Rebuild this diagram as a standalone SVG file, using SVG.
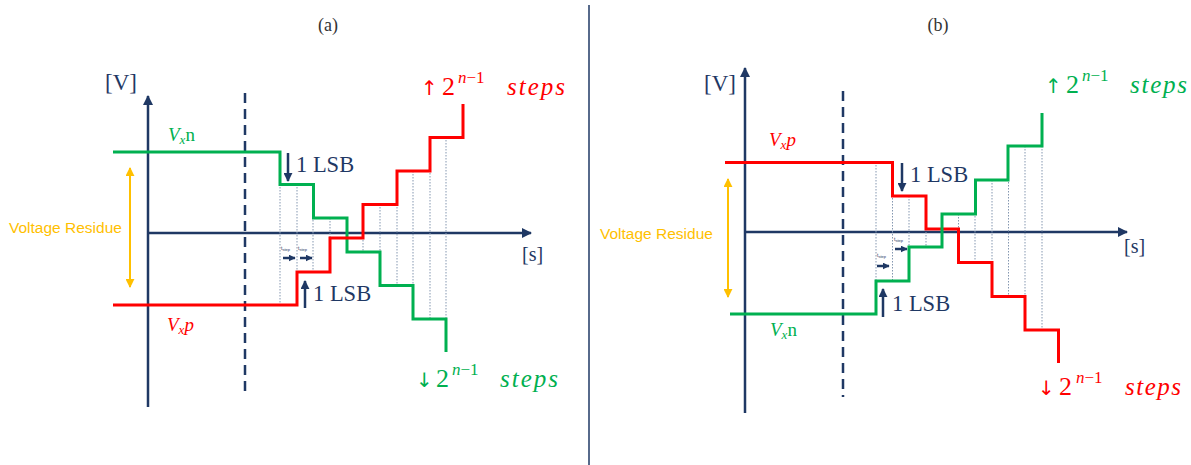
<svg xmlns="http://www.w3.org/2000/svg" width="1191" height="465" viewBox="0 0 1191 465">
<defs>
<marker id="axArrow" viewBox="0 0 10 10" refX="9" refY="5" markerWidth="10" markerHeight="10" markerUnits="userSpaceOnUse" orient="auto"><path d="M0,0 L10,5 L0,10 z" fill="#1F3864"/></marker>
<marker id="lsbArrow" viewBox="0 0 10 10" refX="9" refY="5" markerWidth="9" markerHeight="9" markerUnits="userSpaceOnUse" orient="auto"><path d="M0,0 L10,5 L0,10 z" fill="#1F3864"/></marker>
<marker id="tArrow" viewBox="0 0 10 10" refX="9" refY="5" markerWidth="7" markerHeight="7" markerUnits="userSpaceOnUse" orient="auto"><path d="M0,0 L10,5 L0,10 z" fill="#1F3864"/></marker>
<marker id="amberArrow" viewBox="0 0 10 10" refX="9" refY="5" markerWidth="9" markerHeight="9" markerUnits="userSpaceOnUse" orient="auto-start-reverse"><path d="M0,0 L10,5 L0,10 z" fill="#FFC000"/></marker>
</defs>
<style>
.axis{stroke:#1F3864;stroke-width:2.5;fill:none}
.dash{stroke:#1F3864;stroke-width:2.5;stroke-dasharray:10 6;fill:none}
.green{stroke:#00B050;stroke-width:3;fill:none}
.red{stroke:#FF0000;stroke-width:3;fill:none}
.dot{stroke:#8497B0;stroke-width:1;stroke-dasharray:1.5 1.5;fill:none}
.lsb{stroke:#1F3864;stroke-width:2.5;fill:none}
.tarr{stroke:#1F3864;stroke-width:2.5;fill:none}
.amb{stroke:#FFC000;stroke-width:2;fill:none}
.lbl{font-family:"Liberation Serif","DejaVu Serif",serif;fill:#1F3864}
.title{font-family:"Liberation Serif","DejaVu Serif",serif;font-size:18px;fill:#333333}
.res{font-family:"Liberation Sans",Arial,sans-serif;font-size:15.5px;fill:#FFC000}
.vx{font-family:"Liberation Serif","DejaVu Serif",serif;font-size:19px}
.arr{font-family:"DejaVu Sans",sans-serif;font-size:20px}
.two{font-family:"Liberation Serif",serif;font-size:26px}
.sup{font-family:"Liberation Serif",serif;font-size:17px}
.steps{font-family:"Liberation Serif",serif;font-size:25px;font-style:italic}
.tstep{font-family:"Liberation Sans",Arial,sans-serif;font-size:5px;fill:#1F3864}
</style>
<g id="divider"><line x1="589" y1="5" x2="589" y2="465" stroke="#1F3864" stroke-width="1.5"/></g>

<!-- Panel (a) -->
<g id="panel-a">
<text id="title-a" class="title" x="328" y="31" text-anchor="middle">(a)</text>
<g id="axes-a">
<line class="axis" x1="148" y1="407" x2="148" y2="96" marker-end="url(#axArrow)"/>
<line class="axis" x1="148" y1="233" x2="531" y2="233" marker-end="url(#axArrow)"/>
<text class="lbl" x="105" y="90" font-size="23">[V]</text>
<text class="lbl" x="522" y="261" font-size="20">[s]</text>
</g>
<g id="dashed-a"><line class="dash" x1="245" y1="93" x2="245" y2="397"/></g>
<g id="grid-a">
<line class="dot" x1="280" y1="184" x2="280" y2="305"/>
<line class="dot" x1="297" y1="184" x2="297" y2="305"/>
<line class="dot" x1="313" y1="184" x2="313" y2="272"/>
<line class="dot" x1="330" y1="218" x2="330" y2="272"/>
<line class="dot" x1="347" y1="218" x2="347" y2="252"/>
<line class="dot" x1="363" y1="204" x2="363" y2="252"/>
<line class="dot" x1="380" y1="204" x2="380" y2="285"/>
<line class="dot" x1="397" y1="171" x2="397" y2="285"/>
<line class="dot" x1="413" y1="171" x2="413" y2="319"/>
<line class="dot" x1="430" y1="137" x2="430" y2="319"/>
<line class="dot" x1="446" y1="137" x2="446" y2="319"/>
</g>
<g id="vxn-a">
<path class="green" d="M113,152 H280 V184.5 H313.5 V218 H347 V252 H380 V285.5 H413 V319 H446 V352"/>
<text class="vx" x="168" y="141" fill="#00B050"><tspan font-style="italic">V</tspan><tspan font-style="italic" font-size="13" dy="3">x</tspan><tspan dy="-3">n</tspan></text>
</g>
<g id="vxp-a">
<path class="red" d="M113,305 H297 V272 H330 V238 H363 V204.5 H397 V171 H430 V137.5 H463 V104"/>
<text class="vx" x="167" y="331" fill="#FF0000"><tspan font-style="italic">V</tspan><tspan font-style="italic" font-size="13" dy="3">x</tspan><tspan font-style="italic" dy="-3">p</tspan></text>
</g>
<g id="residue-a">
<line class="amb" x1="130" y1="168" x2="130" y2="287" marker-start="url(#amberArrow)" marker-end="url(#amberArrow)"/>
<text class="res" x="9" y="233">Voltage Residue</text>
</g>
<g id="lsb-top-a">
<line class="lsb" x1="288" y1="153" x2="288" y2="181" marker-end="url(#lsbArrow)"/>
<text class="lbl" x="296" y="172" font-size="22.5">1 LSB</text>
</g>
<g id="lsb-bot-a">
<line class="lsb" x1="305" y1="308" x2="305" y2="281" marker-end="url(#lsbArrow)"/>
<text class="lbl" x="313" y="301" font-size="22.5">1 LSB</text>
</g>
<g id="tstep-a">
<text class="tstep" x="281" y="250">t<tspan font-size="4" dy="1">step</tspan></text>
<text class="tstep" x="298" y="250">t<tspan font-size="4" dy="1">step</tspan></text>
<line class="tarr" x1="283" y1="258" x2="295" y2="258" marker-end="url(#tArrow)"/>
<line class="tarr" x1="300" y1="258" x2="312" y2="258" marker-end="url(#tArrow)"/>
</g>
<g id="steps-up-a" fill="#FF0000">
<text class="arr" x="421" y="95">↑</text>
<text class="two" x="442" y="95">2</text>
<text class="sup" x="458" y="83"><tspan font-style="italic">n</tspan>−1</text>
<text class="steps" x="507" y="95" textLength="58" lengthAdjust="spacing">steps</text>
</g>
<g id="steps-down-a" fill="#00B050">
<text class="arr" x="416" y="387">↓</text>
<text class="two" x="436" y="387">2</text>
<text class="sup" x="452" y="375"><tspan font-style="italic">n</tspan>−1</text>
<text class="steps" x="500" y="387" textLength="58" lengthAdjust="spacing">steps</text>
</g>
</g>

<!-- Panel (b) -->
<g id="panel-b">
<text id="title-b" class="title" x="938" y="31" text-anchor="middle">(b)</text>
<g id="axes-b">
<line class="axis" x1="745" y1="413" x2="745" y2="68" marker-end="url(#axArrow)"/>
<line class="axis" x1="745" y1="232" x2="1127" y2="232" marker-end="url(#axArrow)"/>
<text class="lbl" x="704" y="91" font-size="23">[V]</text>
<text class="lbl" x="1124" y="253" font-size="20">[s]</text>
</g>
<g id="dashed-b"><line class="dash" x1="843" y1="91" x2="843" y2="397"/></g>
<g id="grid-b">
<line class="dot" x1="876" y1="162" x2="876" y2="314"/>
<line class="dot" x1="892.5" y1="162" x2="892.5" y2="281"/>
<line class="dot" x1="909" y1="196" x2="909" y2="281"/>
<line class="dot" x1="926" y1="196" x2="926" y2="247"/>
<line class="dot" x1="942" y1="214" x2="942" y2="247"/>
<line class="dot" x1="958.5" y1="214" x2="958.5" y2="262"/>
<line class="dot" x1="975" y1="180" x2="975" y2="262"/>
<line class="dot" x1="992" y1="180" x2="992" y2="296"/>
<line class="dot" x1="1008.5" y1="146" x2="1008.5" y2="296"/>
<line class="dot" x1="1025" y1="146" x2="1025" y2="330"/>
<line class="dot" x1="1042" y1="146" x2="1042" y2="330"/>
</g>
<g id="vxp-b">
<path class="red" d="M725,162.5 H892.5 V196 H926 V229 H958.5 V262.5 H992 V296.5 H1025 V330 H1058.5 V363"/>
<text class="vx" x="769" y="146" fill="#FF0000"><tspan font-style="italic">V</tspan><tspan font-style="italic" font-size="13" dy="3">x</tspan><tspan font-style="italic" dy="-3">p</tspan></text>
</g>
<g id="vxn-b">
<path class="green" d="M730,314 H876 V281 H909 V247 H942 V214 H975.5 V180 H1008 V146 H1042 V113"/>
<text class="vx" x="770" y="336" fill="#00B050"><tspan font-style="italic">V</tspan><tspan font-style="italic" font-size="13" dy="3">x</tspan><tspan dy="-3">n</tspan></text>
</g>
<g id="residue-b">
<line class="amb" x1="728" y1="179" x2="728" y2="297" marker-start="url(#amberArrow)" marker-end="url(#amberArrow)"/>
<text class="res" x="600" y="239">Voltage Residue</text>
</g>
<g id="lsb-top-b">
<line class="lsb" x1="902" y1="163" x2="902" y2="191" marker-end="url(#lsbArrow)"/>
<text class="lbl" x="910" y="182" font-size="22.5">1 LSB</text>
</g>
<g id="lsb-bot-b">
<line class="lsb" x1="883" y1="317" x2="883" y2="289" marker-end="url(#lsbArrow)"/>
<text class="lbl" x="892" y="311" font-size="22.5">1 LSB</text>
</g>
<g id="tstep-b">
<text class="tstep" x="877" y="257">t<tspan font-size="4" dy="1">step</tspan></text>
<text class="tstep" x="894" y="241">t<tspan font-size="4" dy="1">step</tspan></text>
<line class="tarr" x1="877" y1="266" x2="889" y2="266" marker-end="url(#tArrow)"/>
<line class="tarr" x1="895" y1="249" x2="907" y2="249" marker-end="url(#tArrow)"/>
</g>
<g id="steps-up-b" fill="#00B050">
<text class="arr" x="1045" y="93">↑</text>
<text class="two" x="1066" y="93">2</text>
<text class="sup" x="1082" y="81"><tspan font-style="italic">n</tspan>−1</text>
<text class="steps" x="1130" y="93" textLength="57" lengthAdjust="spacing">steps</text>
</g>
<g id="steps-down-b" fill="#FF0000">
<text class="arr" x="1038" y="395">↓</text>
<text class="two" x="1059" y="395">2</text>
<text class="sup" x="1076" y="383"><tspan font-style="italic">n</tspan>−1</text>
<text class="steps" x="1125" y="395" textLength="56" lengthAdjust="spacing">steps</text>
</g>
</g>
</svg>
